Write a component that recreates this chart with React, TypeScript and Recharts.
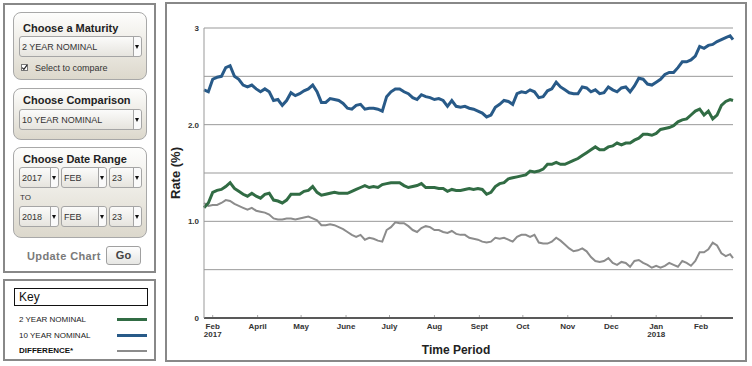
import React from "react";
import { CartesianGrid, Line, LineChart, XAxis, YAxis } from "recharts";

// days since Feb 23 2017
const days = [
  0, 3, 6, 9, 12, 15, 18, 21, 24, 27, 30, 33, 36, 39, 42, 45, 48, 51, 54, 57, 60, 63, 66, 69, 72, 75, 78, 81, 84, 87, 90,
  93, 96, 99, 102, 105, 108, 111, 114, 117, 120, 123, 126, 129, 132, 135, 138, 141, 144, 147, 150, 153, 156, 159, 162, 165, 168, 171, 174, 177, 180, 183,
  186, 189, 192, 195, 198, 201, 204, 207, 210, 213, 216, 219, 222, 225, 228, 231, 234, 237, 240, 243, 246, 249, 252, 255, 258, 261, 264, 267, 270, 273, 276,
  279, 282, 285, 288, 291, 294, 297, 300, 303, 306, 309, 312, 315, 318, 321, 324, 327, 330, 333, 336, 339, 342, 345, 348, 351, 354, 357, 360, 363, 365,
];

const tenYear = [
  2.36, 2.34, 2.47, 2.49, 2.5, 2.59, 2.61, 2.5, 2.47, 2.41, 2.39, 2.41, 2.37, 2.34, 2.37, 2.34, 2.25, 2.26, 2.2, 2.25, 2.33, 2.3, 2.32, 2.35, 2.37, 2.41, 2.34, 2.23, 2.23, 2.27, 2.26,
  2.25, 2.22, 2.17, 2.16, 2.2, 2.21, 2.16, 2.17, 2.17, 2.16, 2.14, 2.29, 2.34, 2.37, 2.37, 2.34, 2.32, 2.28, 2.26, 2.31, 2.29, 2.28, 2.26, 2.27, 2.25, 2.19, 2.25, 2.19, 2.18, 2.19, 2.17,
  2.16, 2.14, 2.12, 2.08, 2.1, 2.18, 2.21, 2.25, 2.24, 2.21, 2.32, 2.34, 2.33, 2.36, 2.34, 2.28, 2.29, 2.35, 2.37, 2.44, 2.39, 2.36, 2.33, 2.32, 2.32, 2.39, 2.38, 2.34, 2.36, 2.32, 2.33,
  2.39, 2.36, 2.34, 2.38, 2.39, 2.34, 2.4, 2.48, 2.47, 2.42, 2.41, 2.44, 2.47, 2.52, 2.54, 2.54, 2.59, 2.65, 2.65, 2.67, 2.71, 2.81, 2.79, 2.82, 2.83, 2.86, 2.88, 2.9, 2.92, 2.88,
];

const twoYear = [
  1.14, 1.19, 1.3, 1.32, 1.33, 1.36, 1.4, 1.34, 1.31, 1.28, 1.26, 1.29, 1.26, 1.24, 1.28, 1.29, 1.22, 1.21, 1.19, 1.22, 1.28, 1.28, 1.28, 1.31, 1.32, 1.36, 1.3, 1.27, 1.28, 1.29, 1.3,
  1.29, 1.29, 1.29, 1.31, 1.33, 1.35, 1.37, 1.35, 1.36, 1.35, 1.38, 1.39, 1.4, 1.4, 1.4, 1.37, 1.35, 1.36, 1.37, 1.39, 1.35, 1.35, 1.35, 1.34, 1.34, 1.31, 1.33, 1.32, 1.32, 1.33, 1.34,
  1.33, 1.34, 1.33, 1.28, 1.3, 1.36, 1.39, 1.4, 1.44, 1.45, 1.46, 1.47, 1.48, 1.52, 1.51, 1.52, 1.54, 1.59, 1.59, 1.61, 1.59, 1.59, 1.61, 1.63, 1.65, 1.68, 1.71, 1.74, 1.77, 1.74, 1.74,
  1.77, 1.78, 1.81, 1.79, 1.81, 1.81, 1.84, 1.86, 1.9, 1.9, 1.89, 1.91, 1.95, 1.96, 1.97, 1.99, 2.03, 2.05, 2.06, 2.1, 2.14, 2.16, 2.1, 2.14, 2.06, 2.1, 2.2, 2.24, 2.26, 2.25,
];

const difference = [
  1.19, 1.16, 1.17, 1.17, 1.19, 1.22, 1.21, 1.18, 1.16, 1.14, 1.12, 1.14, 1.11, 1.1, 1.09, 1.07, 1.03, 1.02, 1.02, 1.03, 1.03, 1.02, 1.03, 1.04, 1.05, 1.03, 1.01, 0.96, 0.96, 0.97, 0.96,
  0.94, 0.92, 0.89, 0.86, 0.84, 0.86, 0.81, 0.83, 0.82, 0.8, 0.79, 0.91, 0.94, 0.99, 0.98, 0.98, 0.95, 0.91, 0.89, 0.93, 0.95, 0.94, 0.91, 0.91, 0.89, 0.88, 0.9, 0.87, 0.86, 0.86, 0.83,
  0.82, 0.81, 0.79, 0.78, 0.79, 0.83, 0.82, 0.83, 0.81, 0.79, 0.84, 0.86, 0.86, 0.84, 0.86, 0.78, 0.77, 0.77, 0.79, 0.83, 0.8, 0.76, 0.72, 0.69, 0.7, 0.72, 0.69, 0.63, 0.59, 0.58, 0.59,
  0.62, 0.57, 0.55, 0.58, 0.57, 0.53, 0.59, 0.6, 0.57, 0.55, 0.52, 0.54, 0.52, 0.54, 0.57, 0.55, 0.53, 0.59, 0.57, 0.54, 0.59, 0.68, 0.68, 0.71, 0.78, 0.75, 0.67, 0.64, 0.66, 0.62,
];

const xTickDays = [6, 37, 67, 98, 128, 159, 190, 220, 251, 281, 312, 343];
const xTickLabels = [
  ["Feb", "2017"], ["April"], ["May"], ["June"], ["July"], ["Aug"],
  ["Sept"], ["Oct"], ["Nov"], ["Dec"], ["Jan", "2018"], ["Feb"],
];
const yTicks = [0, 0.5, 1, 1.5, 2, 2.5, 3];
const yTickLabels = ["0", "", "1.0", "", "2.0", "", "3"];

const FONT = '"Liberation Sans", Arial, Helvetica, sans-serif';
const BLUE = "#285a88";
const GREEN = "#316c44";
const GRAY = "#8c8c8c";

function MonthTick(props: any) {
  const { x, y, payload } = props;
  const lines = xTickLabels[xTickDays.indexOf(payload.value)] ?? [];
  return (
    <g>
      <line x1={x} x2={x} y1={y - 3} y2={y - 1} stroke="#aaa" />
      {lines.map((l, i) => (
        <text
          key={i}
          x={x}
          y={y + 10.5 + i * 8.5}
          textAnchor="middle"
          fontSize={8}
          fontWeight="bold"
          fill="#333"
          fontFamily={FONT}
        >
          {l}
        </text>
      ))}
    </g>
  );
}

function FakeSelect({ left, top, width, label }: { left: number; top: number; width: number; label: string }) {
  return (
    <div
      style={{
        position: "absolute", left, top, width, height: 21, boxSizing: "border-box",
        border: "1px solid #a5a5a5", borderRadius: 3, background: "linear-gradient(#fbfbfa, #e6e4de)",
      }}
    >
      <span style={{ position: "absolute", left: 2, top: 5, fontSize: 9, lineHeight: "10px", color: "#333", whiteSpace: "nowrap" }}>
        {label}
      </span>
      <div style={{ position: "absolute", right: 0, top: 0, bottom: 0, width: 7, borderLeft: "1px solid #a5a5a5", background: "#fafafa", borderRadius: "0 3px 3px 0" }}>
        <div style={{ position: "absolute", left: 1, top: 8, width: 0, height: 0, borderLeft: "2px solid transparent", borderRight: "2px solid transparent", borderTop: "4px solid #111" }} />
      </div>
    </div>
  );
}

const boxStyle: React.CSSProperties = {
  position: "absolute", left: 13, width: 134, boxSizing: "border-box",
  border: "1px solid #a8a8a8", borderRadius: 8, background: "linear-gradient(#fdfdfc, #dcd8cc)",
};
const titleStyle: React.CSSProperties = {
  position: "absolute", left: 9, fontSize: 11, fontWeight: "bold", color: "#222", whiteSpace: "nowrap", lineHeight: "12px",
};

export default function App() {
  const table = days.map((d, i) => ({ day: d, ten: tenYear[i], two: twoYear[i], diff: difference[i] }));

  return (
    <div style={{ position: "absolute", left: 0, top: 0, width: 752, height: 366, background: "#fff", fontFamily: FONT, overflow: "hidden" }}>
      {/* controls panel */}
      <div style={{ position: "absolute", left: 3, top: 3, width: 153, height: 270, boxSizing: "border-box", border: "2px solid #888" }} />

      <div style={{ ...boxStyle, top: 12, height: 68 }}>
        <div style={{ ...titleStyle, top: 9 }}>Choose a Maturity</div>
      </div>
      <FakeSelect left={19} top={36} width={123} label="2 YEAR NOMINAL" />
      <div style={{ position: "absolute", left: 21, top: 64, width: 7, height: 7, boxSizing: "border-box", border: "1px solid #777", background: "#fff" }}>
        <svg width={7} height={7} style={{ position: "absolute", left: -1, top: -1 }}>
          <path d="M1.2 3.6 L2.9 5.4 L6 1.2" stroke="#222" strokeWidth={1.2} fill="none" />
        </svg>
      </div>
      <div style={{ position: "absolute", left: 35, top: 63, fontSize: 9, lineHeight: "10px", color: "#333" }}>Select to compare</div>

      <div style={{ ...boxStyle, top: 88, height: 52 }}>
        <div style={{ ...titleStyle, top: 5 }}>Choose Comparison</div>
      </div>
      <FakeSelect left={19} top={109} width={123} label="10 YEAR NOMINAL" />

      <div style={{ ...boxStyle, top: 147, height: 91 }}>
        <div style={{ ...titleStyle, top: 5 }}>Choose Date Range</div>
      </div>
      <FakeSelect left={19} top={167} width={40} label="2017" />
      <FakeSelect left={61} top={167} width={46} label="FEB" />
      <FakeSelect left={109} top={167} width={33} label="23" />
      <div style={{ position: "absolute", left: 20, top: 193, fontSize: 8, lineHeight: "9px", color: "#333" }}>TO</div>
      <FakeSelect left={19} top={206} width={40} label="2018" />
      <FakeSelect left={61} top={206} width={46} label="FEB" />
      <FakeSelect left={109} top={206} width={33} label="23" />

      <div style={{ position: "absolute", left: 27, top: 250, fontSize: 11, fontWeight: "bold", letterSpacing: 0.4, color: "#7a7a7a", lineHeight: "12px" }}>
        Update Chart
      </div>
      <div
        style={{
          position: "absolute", left: 106, top: 246, width: 35, height: 19, boxSizing: "border-box",
          border: "1px solid #a0a0a0", borderRadius: 3, background: "linear-gradient(#fefefe, #e6e6e3)",
          fontSize: 11, fontWeight: "bold", color: "#444", textAlign: "center", lineHeight: "17px",
        }}
      >
        Go
      </div>

      {/* key */}
      <div style={{ position: "absolute", left: 3, top: 279, width: 153, height: 82, boxSizing: "border-box", border: "2px solid #888" }} />
      <div style={{ position: "absolute", left: 14, top: 288, width: 134, height: 18, boxSizing: "border-box", border: "1.5px solid #111" }}>
        <div style={{ position: "absolute", left: 4, top: 2, fontSize: 12, lineHeight: "13px", color: "#111" }}>Key</div>
      </div>
      <div style={{ position: "absolute", left: 19, top: 315, fontSize: 8, lineHeight: "9px", color: "#222" }}>2 YEAR NOMINAL</div>
      <div style={{ position: "absolute", left: 117, top: 318, width: 30, height: 3, background: GREEN }} />
      <div style={{ position: "absolute", left: 19, top: 331, fontSize: 8, lineHeight: "9px", color: "#222" }}>10 YEAR NOMINAL</div>
      <div style={{ position: "absolute", left: 117, top: 334, width: 30, height: 3, background: BLUE }} />
      <div style={{ position: "absolute", left: 19, top: 346, fontSize: 8, lineHeight: "9px", color: "#111", fontWeight: "bold" }}>DIFFERENCE*</div>
      <div style={{ position: "absolute", left: 117, top: 350, width: 30, height: 2, background: GRAY }} />

      {/* chart frame */}
      <div style={{ position: "absolute", left: 165, top: 2, width: 582, height: 360, boxSizing: "border-box", border: "2px solid #888" }} />
      <div style={{ position: "absolute", left: 166, top: 3 }}>
        <LineChart width={578} height={358} data={table} margin={{ top: 25, right: 11, bottom: 0, left: 0 }}>
          <CartesianGrid vertical={false} stroke="#999" />
          <XAxis
            dataKey="day"
            type="number"
            domain={[0, 365]}
            ticks={xTickDays}
            interval={0}
            tick={<MonthTick />}
            tickLine={false}
            tickSize={0}
            tickMargin={0}
            axisLine={{ stroke: "#333", strokeWidth: 1.5 }}
            height={43}
          />
          <YAxis
            type="number"
            domain={[0, 3]}
            ticks={yTicks}
            interval={0}
            tickFormatter={(v: number) => yTickLabels[yTicks.indexOf(v)] ?? ""}
            tick={{ fontSize: 8, fontWeight: "bold", fill: "#333", fontFamily: FONT }}
            tickLine={false}
            tickSize={0}
            tickMargin={5}
            axisLine={{ stroke: "#999" }}
            width={38}
          />
          <Line dataKey="diff" stroke={GRAY} strokeWidth={2} dot={false} activeDot={false} isAnimationActive={false} />
          <Line dataKey="two" stroke={GREEN} strokeWidth={3} dot={false} activeDot={false} isAnimationActive={false} />
          <Line dataKey="ten" stroke={BLUE} strokeWidth={3} dot={false} activeDot={false} isAnimationActive={false} />
        </LineChart>
      </div>

      {/* axis titles */}
      <div
        style={{
          position: "absolute", left: 176, top: 173, transform: "translate(-50%, -50%) rotate(-90deg)",
          fontSize: 13, fontWeight: "bold", color: "#222", whiteSpace: "nowrap", lineHeight: "14px",
        }}
      >
        Rate (%)
      </div>
      <div style={{ position: "absolute", left: 456, top: 343, transform: "translateX(-50%)", fontSize: 12, fontWeight: "bold", color: "#222", whiteSpace: "nowrap", lineHeight: "14px" }}>
        Time Period
      </div>
    </div>
  );
}
